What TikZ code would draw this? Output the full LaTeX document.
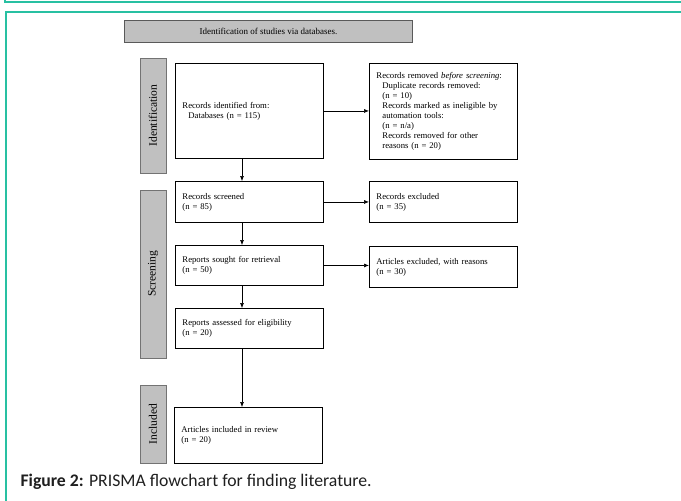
\documentclass[tikz,border=0pt]{standalone}
\usepackage{fontspec}
\setmainfont{Liberation Serif}
\newfontfamily\capfont{Carlito}
\usetikzlibrary{arrows.meta}

\definecolor{frameteal}{RGB}{40,192,162}
\definecolor{bargray}{RGB}{192,192,192}

\tikzset{
  flowbox/.style={draw=black, line width=0.9pt, fill=white, anchor=north west,
    inner xsep=7pt, inner ysep=2pt, align=left, text width=134pt,
    font=\fontsize{8.7}{10}\selectfont},
  phasebar/.style={draw=black!55, line width=0.8pt, fill=bargray, rotate=90,
    minimum height=26pt, inner sep=0pt, font=\fontsize{11.5}{13}\selectfont},
  headbar/.style={draw=black!65, line width=1.1pt, fill=bargray, anchor=north west,
    minimum width=288pt, minimum height=22pt, inner sep=0pt,
    font=\fontsize{9}{11}\selectfont},
  arr/.style={-{Latex[length=5pt,width=4pt]}, line width=0.6pt},
  frameline/.style={draw=frameteal, line width=1.6pt},
}
\newcommand{\ind}{\hspace*{6pt}}

\begin{document}
\begin{tikzpicture}[x=1pt,y=-1pt]
\useasboundingbox (0,0) rectangle (681,501);
\draw[frameline] (5,0) -- (5,2) -- (681,2);
\draw[frameline] (6,501) -- (6,12) -- (681,12);

\node[headbar] (head) at (124,20) {Identification of studies via databases.};

% phases
\node[phasebar, minimum width=115pt] (idbar) at (153,115.5) {Identification};
\node[phasebar, minimum width=168pt] (scbar) at (153,274) {Screening};
\node[phasebar, minimum width=78pt] (inbar) at (153,424) {Included};

% left column
\node[flowbox, minimum height=95pt] (ident) at (175,63)
  {Records identified from:\\\ind Databases (n = 115)};
\node[flowbox, minimum height=41pt] (screen) at (175,181)
  {Records screened\\(n = 85)};
\node[flowbox, minimum height=40pt] (sought) at (175,245)
  {Reports sought for retrieval\\(n = 50)};
\node[flowbox, minimum height=40pt] (assess) at (175,308)
  {Reports assessed for eligibility\\(n = 20)};
\node[flowbox, minimum height=56pt] (incl) at (174,407)
  {Articles included in review\\(n = 20)};

% right column
\node[flowbox, minimum height=96pt] (removed) at (369,63)
  {Records removed \textit{before screening}:\\
   \ind Duplicate records removed:\\
   \ind (n = 10)\\
   \ind Records marked as ineligible by\\
   \ind automation tools:\\
   \ind (n = n/a)\\
   \ind Records removed for other\\
   \ind reasons (n = 20)};
\node[flowbox, minimum height=41pt] (excl) at (369,181)
  {Records excluded\\(n = 35)};
\node[flowbox, minimum height=41pt] (artexcl) at (369,246)
  {Articles excluded, with reasons\\(n = 30)};

\coordinate (spine) at (242,0);
\draw[arr] (ident.south -| spine) -- (screen.north -| spine);
\draw[arr] (screen.south -| spine) -- (sought.north -| spine);
\draw[arr] (sought.south -| spine) -- (assess.north -| spine);
\draw[arr] (assess.south -| spine) -- (incl.north -| spine);

\draw[arr] (ident.east) -- (ident.east -| removed.west);
\draw[arr] (screen.east) -- (screen.east -| excl.west);
\draw[arr] (sought.east) -- (sought.east -| artexcl.west);

\node[anchor=base west, text=black!88, font=\capfont\fontsize{17.7}{20}\selectfont] (caption) at (17,486)
  {\textbf{Figure 2:} PRISMA flowchart for finding literature.};
\end{tikzpicture}
\end{document}
